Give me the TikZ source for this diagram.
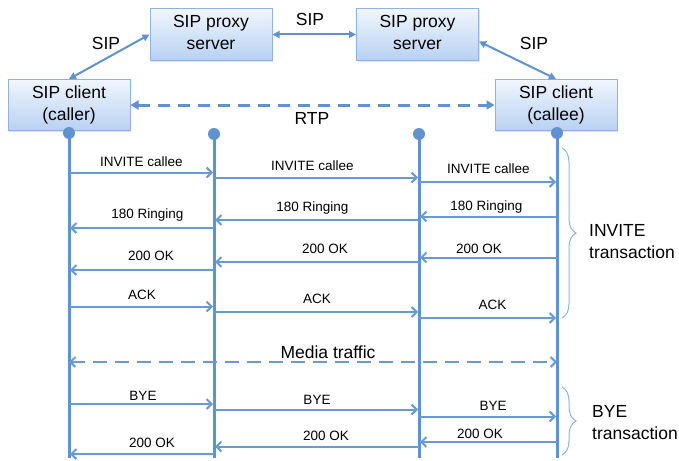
\documentclass[tikz,border=0pt]{standalone}
\usepackage{fontspec}
\setmainfont{Liberation Sans}
\usetikzlibrary{arrows.meta,decorations.pathreplacing,shadows}

\definecolor{lane}{RGB}{96,146,208}
\definecolor{msgblue}{RGB}{104,154,214}
\definecolor{boxedge}{RGB}{143,178,223}
\definecolor{boxtop}{RGB}{240,246,253}
\definecolor{boxbot}{RGB}{184,209,242}
\definecolor{bracec}{RGB}{141,180,226}

% message arrow between two lifelines: from, to, arrow y, label x, label baseline, text
\newcommand{\sipmsg}[6]{%
  \draw[msg] (#1 |- 0,#3) -- (#2 |- 0,#3);
  \node[msglbl] at (#4,#5) {#6};}

\begin{document}
\begin{tikzpicture}[x=1pt,y=-1pt,
  bigfont/.style={font=\fontsize{17.5}{22}\selectfont},
  smallfont/.style={font=\fontsize{13.5}{16}\selectfont},
  agent/.style={draw=boxedge, line width=1pt, top color=boxtop, bottom color=boxbot,
    drop shadow={opacity=0.22, shadow xshift=1pt, shadow yshift=-1.5pt},
    minimum width=122pt, minimum height=51pt, inner sep=0pt, align=center, bigfont,
    execute at begin node={\rule{0pt}{19pt}},
    execute at end node={\rule[-4pt]{0pt}{4pt}}},
  lifeline/.style={draw=lane, line width=3pt},
  dotend/.style={circle, fill=lane, minimum size=12pt, inner sep=0pt},
  msg/.style={draw=msgblue, line width=2pt, shorten >=1pt,
    -{Straight Barb[length=5pt,width=10pt]}},
  msglbl/.style={smallfont, anchor=base, inner sep=0pt},
  sipline/.style={draw=lane, line width=2pt,
    {Triangle[length=7pt,width=7pt]}-{Triangle[length=7pt,width=7pt]}},
  rtpline/.style={draw=lane, line width=3pt, dash pattern=on 12pt off 8pt,
    {Triangle[length=8pt,width=9pt]}-{Triangle[length=8pt,width=9pt]}},
  mediline/.style={draw=msgblue, line width=2pt, dash pattern=on 14pt off 8pt,
    {Straight Barb[length=5pt,width=10pt]}-{Straight Barb[length=5pt,width=10pt]}},
  bigbrace/.style={draw=bracec, line width=1pt, decorate,
    decoration={brace, amplitude=14pt, aspect=0.5}},
  biglbl/.style={bigfont, inner sep=0pt}]

\useasboundingbox (0,0) rectangle (679,460);

% end points and parties
\node[agent] (caller) at (69,105) {SIP client\\(caller)};
\node[agent] (proxy1) at (211,34.5) {SIP proxy\\server};
\node[agent] (proxy2) at (417.5,34.5) {SIP proxy\\server};
\node[agent] (callee) at (556,105) {SIP client\\(callee)};

% signalling and media paths between the parties
\draw[sipline] (caller.north) -- (proxy1.west);
\draw[sipline] (proxy1.east) -- (proxy2.west);
\draw[sipline] ([yshift=-7pt]proxy2.east) -- (callee.north);
\draw[rtpline] (caller.east) -- (callee.west);
\node[biglbl, anchor=base] (sipa) at (106,49.5) {SIP};
\node[biglbl, anchor=base] (sipb) at (310,25.5) {SIP};
\node[biglbl, anchor=base] (sipc) at (534,49.5) {SIP};
\node[biglbl, anchor=base] (rtp) at (312,124.5) {RTP};

% lifelines
\coordinate (e1) at (69,458);
\coordinate (e2) at (214,458);
\coordinate (e3) at (419,458);
\coordinate (e4) at (557,458);
\coordinate (t1) at (69,133);
\coordinate (t2) at (214,134);
\coordinate (t3) at (419,134);
\coordinate (t4) at (557,133);
\foreach \i in {1,2,3,4} {
  \draw[lifeline] (t\i) -- (e\i);
  \node[dotend] (d\i) at (t\i) {};
}

% INVITE transaction
\sipmsg{d1}{d2}{172.5}{141.5}{166}{INVITE callee}
\sipmsg{d2}{d3}{177.5}{312.5}{170.5}{INVITE callee}
\sipmsg{d3}{d4}{182}{488.5}{173}{INVITE callee}
\sipmsg{d4}{d3}{216.5}{486.5}{210}{180 Ringing}
\sipmsg{d3}{d2}{220}{312.5}{211}{180 Ringing}
\sipmsg{d2}{d1}{228}{147.5}{218}{180 Ringing}
\sipmsg{d4}{d3}{257.5}{479}{253}{200 OK}
\sipmsg{d3}{d2}{262}{325}{253}{200 OK}
\sipmsg{d2}{d1}{270}{151}{260}{200 OK}
\sipmsg{d1}{d2}{306.5}{142}{299}{ACK}
\sipmsg{d2}{d3}{312}{317}{303}{ACK}
\sipmsg{d3}{d4}{318}{492.5}{309}{ACK}

% media session
\draw[mediline] (d1 |- 0,362) -- (d4 |- 0,362);
\node[biglbl, anchor=base] (media) at (328,358.5) {Media traffic};

% BYE transaction
\sipmsg{d1}{d2}{404}{143}{400}{BYE}
\sipmsg{d2}{d3}{409.5}{317}{404}{BYE}
\sipmsg{d3}{d4}{416.5}{493}{410.5}{BYE}
\sipmsg{d4}{d3}{442}{480}{438}{200 OK}
\sipmsg{d3}{d2}{446.5}{326}{440}{200 OK}
\sipmsg{d2}{d1}{454}{152}{447}{200 OK}

% transaction braces
\coordinate (ib1) at (562,148);
\coordinate (ib2) at (562,318);
\coordinate (bb1) at (562,387);
\coordinate (bb2) at (562,455);
\draw[bigbrace] (ib1) -- (ib2);
\draw[bigbrace] (bb1) -- (bb2);
\node[biglbl, anchor=base west, align=left] (invlbl) at (589,258) {INVITE\\transaction};
\node[biglbl, anchor=base west, align=left] (byelbl) at (592,439) {BYE\\transaction};

\end{tikzpicture}
\end{document}
